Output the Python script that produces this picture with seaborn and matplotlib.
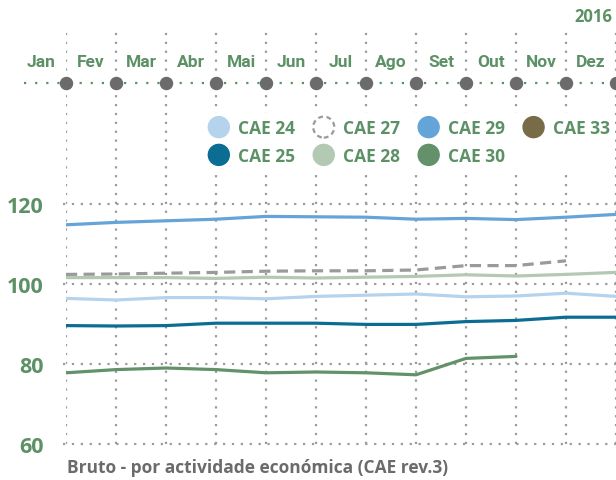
import numpy as np
import pandas as pd
import matplotlib
matplotlib.use("Agg")
import matplotlib.pyplot as plt
import matplotlib.patches as mpatches
from matplotlib.legend_handler import HandlerPatch
import seaborn as sns

# months of 2016 (PT labels)
months = ["Jan", "Fev", "Mar", "Abr", "Mai", "Jun", "Jul", "Ago", "Set", "Out", "Nov", "Dez"]
year_label = "2016"
yticks = [60, 80, 100, 120]

# values (index base), one list per CAE
cae24 = [96.4, 96.0, 96.6, 96.6, 96.3, 96.9, 97.2, 97.5, 96.8, 97.0, 97.7, 96.9]
cae25 = [89.6, 89.5, 89.6, 90.2, 90.2, 90.2, 89.9, 89.9, 90.6, 90.9, 91.7, 91.7]
cae27 = [102.4, 102.5, 102.7, 102.9, 103.2, 103.3, 103.3, 103.5, 104.6, 104.6, 105.8, None]
cae28 = [101.6, 101.6, 101.6, 101.4, 101.7, 101.5, 101.7, 101.9, 102.3, 102.0, 102.4, 102.9]
cae29 = [114.8, 115.4, 115.8, 116.2, 116.9, 116.8, 116.7, 116.2, 116.4, 116.1, 116.7, 117.4]
cae30 = [77.8, 78.6, 79.0, 78.6, 77.8, 78.0, 77.8, 77.3, 81.4, 81.9, None, None]

series_names = ["CAE 24", "CAE 25", "CAE 27", "CAE 28", "CAE 29", "CAE 30", "CAE 33"]
series_vals = [cae24, cae25, cae27, cae28, cae29, cae30, []]
colors = {
    "CAE 24": "#b5d3ec",
    "CAE 25": "#0b6d93",
    "CAE 27": "#9a9a9a",
    "CAE 28": "#b4c9b3",
    "CAE 29": "#65a4d9",
    "CAE 30": "#62916a",
    "CAE 33": "#776b48",
}

GREEN = "#5c9166"
GREY = "#6b6b6b"
GRID = "#9b9b9b"

rows = []
for name, vals in zip(series_names, series_vals):
    for i, v in enumerate(vals):
        if v is not None:
            rows.append({"pos": i, "value": v, "serie": name})
df = pd.DataFrame(rows)

sns.set_theme(style="white")
plt.rcParams["font.family"] = ["Open Sans", "DejaVu Sans"]

fig = plt.figure(figsize=(6.16, 4.81), dpi=100)
ax = fig.add_axes([66 / 616, 36 / 481, 550 / 616, 414 / 481])

plotted = [s for s in series_names if s in df["serie"].unique()]
dash_map = {s: "" for s in plotted}
dash_map["CAE 27"] = (3.5, 2)
sns.lineplot(data=df, x="pos", y="value", hue="serie", style="serie",
             palette={s: colors[s] for s in plotted}, dashes=dash_map,
             linewidth=2.3, legend=False, ax=ax, zorder=3)

ax.set_xlim(0, 11)
ax.set_ylim(60, 163.5)
ax.set_xticks(range(12))
ax.set_xticklabels([])
ax.set_yticks(yticks)
ax.set_yticklabels([str(t) for t in yticks], fontsize=15.5, fontweight="bold", color=GREEN)
ax.tick_params(axis="y", length=0, pad=16)
ax.tick_params(axis="x", length=0)
ax.set_xlabel("")
ax.set_ylabel("")
for sp in ax.spines.values():
    sp.set_visible(False)

# dotted grid
for i in range(12):
    ax.axvline(i, color=GRID, linestyle=(0, (1, 3)), linewidth=1.6, zorder=1)
for t in yticks:
    ax.plot([-0.06, 11], [t, t], color=GRID, linestyle=(0, (1, 3)), linewidth=1.6,
            zorder=1, clip_on=False)

# month timeline on top
tl_y = 150.25
ax.plot([-0.84, 11], [tl_y, tl_y], color=GREEN, linestyle=(0, (1, 4)), linewidth=1.6,
        clip_on=False, zorder=2)
ax.scatter(range(12), [tl_y] * 12, s=75, color=GREY, zorder=4, clip_on=False)
for i, m in enumerate(months):
    ax.text(i - 0.5, 155.5, m, ha="center", va="center", fontsize=12.5,
            fontweight="bold", color=GREEN, family=["Roboto", "DejaVu Sans"])
fig.text(612 / 616, 1 - 17 / 481, year_label, ha="right", va="center", fontsize=12,
         fontweight="bold", color=GREEN)


# legend with round markers (CAE 27 as dashed outline)
def make_circle(legend, orig_handle, xdescent, ydescent, width, height, fontsize):
    return mpatches.Circle((width / 2 - xdescent, height / 2 - ydescent), radius=10.5 * 0.72)


handles = []
for name in series_names:
    if name == "CAE 27":
        h = mpatches.Circle((0, 0), 1, facecolor="none", edgecolor=colors[name],
                            linestyle=(0, (2.2, 1.6)), linewidth=1.6)
    else:
        h = mpatches.Circle((0, 0), 1, facecolor=colors[name], edgecolor=colors[name])
    handles.append(h)

leg = ax.legend(handles, series_names, ncol=4, loc="upper left",
                bbox_to_anchor=(194 / 616, 1 - 105 / 481), bbox_transform=fig.transFigure,
                handler_map={mpatches.Circle: HandlerPatch(patch_func=make_circle)},
                frameon=True, facecolor="white", edgecolor="none", framealpha=1,
                handlelength=1.26, handleheight=1.26, handletextpad=0.5,
                columnspacing=1.0, labelspacing=0.5, borderpad=0.3,
                prop={"weight": "bold", "size": 12.5})
for txt in leg.get_texts():
    txt.set_color(GREEN)
leg.set_zorder(5)

fig.text(67 / 616, 1 - 468 / 481, "Bruto - por actividade económica (CAE rev.3)",
         ha="left", va="center", fontsize=12.5, fontweight="bold", color=GREY)

fig.savefig("out.png", dpi=100)
